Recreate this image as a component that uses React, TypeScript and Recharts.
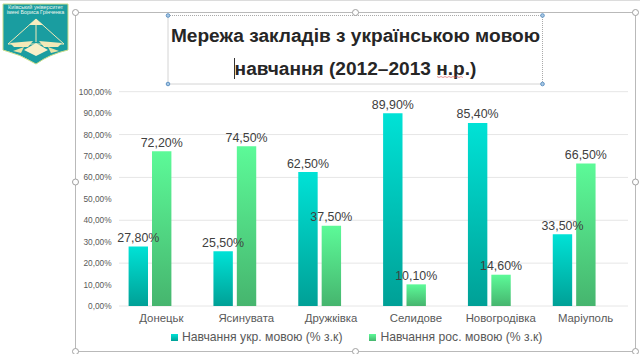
import React from 'react';
import { BarChart, Bar, XAxis, YAxis, CartesianGrid, LabelList, Legend } from 'recharts';

const cities = ['Донецьк', 'Ясинувата', 'Дружківка', 'Селидове', 'Новогродівка', 'Маріуполь'];
const ukrValues = [27.8, 25.5, 62.5, 89.9, 85.4, 33.5];
const rosValues = [72.2, 74.5, 37.5, 10.1, 14.6, 66.5];
const yTicks = [0, 10, 20, 30, 40, 50, 60, 70, 80, 90, 100];
const titleLines = ['Мережа закладів з українською мовою', 'навчання (2012–2013 н.р.)'];

const data = cities.map((city, i) => ({ city, ukr: ukrValues[i], ros: rosValues[i] }));

const font = '"Liberation Sans", Arial, sans-serif';
const formatPercent = (value: any) => `${Number(value).toFixed(2).replace('.', ',')}%`;

// the grid starts right of the bars' axis, as in the slide
const GridLine = (props: any) => (
  <line x1={props.x1 + 11.4} x2={props.x2} y1={props.y1} y2={props.y2} stroke="#e6e6e6" strokeWidth={1} />
);

// slide selection frame, title box and university logo
const SlideOverlay = () => {
  const handles = [
    [75.5, 12.5], [355.5, 12.5], [635.5, 12.5],
    [75.5, 182], [635.5, 182],
    [75.5, 351.5], [355.5, 351.5], [635.5, 351.5],
  ];
  const blueHandles = [[168, 15.5], [542.5, 15.5], [168, 84], [542.5, 84]];
  return (
    <svg width={640} height={354} style={{ position: 'absolute', left: 0, top: 0 }}>
      <line x1={0} x2={640} y1={0.5} y2={0.5} stroke="#dcdcdc" />
      <rect x={75.5} y={12.5} width={560} height={339} fill="none" stroke="#b9b9b9" />
      <rect x={168} y={15.5} width={374.5} height={68.5} fill="none" stroke="#a9a9a9" strokeDasharray="1 1" />
      {handles.map(([cx, cy], i) => (
        <circle key={i} cx={cx} cy={cy} r={3} fill="#fff" stroke="#a0a0a0" />
      ))}
      {blueHandles.map(([cx, cy], i) => (
        <circle key={i} cx={cx} cy={cy} r={1.8} fill="#a9c8e4" stroke="#5f93c4" />
      ))}
      <text x={355.5} y={42} textAnchor="middle" fontFamily={font} fontWeight={700} fontSize={19.1} fill="#262626">{titleLines[0]}</text>
      <text x={355.5} y={75} textAnchor="middle" fontFamily={font} fontWeight={700} fontSize={19.1} fill="#262626">{titleLines[1]}</text>
      <line x1={234.5} x2={234.5} y1={58} y2={79} stroke="#333" />
      <path d="M437 76.5 l2 1 l2 -1 l2 1 l2 -1 l2 1 l2 -1 l2 1 l2 -1 l2 1 l2 -1 l2 1 l2 -1 l2 1" fill="none" stroke="#d9534f" strokeWidth={0.6} />
      <g>
        <path d="M3 4 H68 V50 Q50 54 36 64 Q20 54 3 50 Z" fill="#1a9da0" stroke="#c9dc8a" strokeWidth={1} />
        <text x={35.5} y={9} textAnchor="middle" fontFamily={font} fontSize={5.4} fill="#eef6ee">Київський університет</text>
        <text x={35.5} y={14} textAnchor="middle" fontFamily={font} fontSize={5.4} fill="#eef6ee">імені Бориса Грінченка</text>
        <path d="M36 19 L64 44 H8 Z" fill="none" stroke="#f3e9b8" strokeWidth={1} />
        <path d="M36 19 L29 25 H43 Z" fill="#f6edc0" />
        <line x1={36} x2={36} y1={22} y2={42} stroke="#f3e9b8" />
        <path d="M10 43 L33 41 L28 47 L14 47 Z" fill="#f3e9b8" />
        <path d="M62 43 L39 41 L44 47 L58 47 Z" fill="#f3e9b8" />
        <path d="M36 43 L48 50 L36 56 L24 50 Z" fill="#f8efc8" />
        <path d="M13 51 L24 47 L21 53 Z" fill="#e6e3a8" />
        <path d="M59 51 L48 47 L51 53 Z" fill="#e6e3a8" />
      </g>
    </svg>
  );
};

const App = () => {
  return (
    <div style={{ position: 'absolute', left: 0, top: 0, width: 640, height: 354, background: '#fff', overflow: 'hidden' }}>
      <SlideOverlay />
      <div style={{ position: 'absolute', left: 0, top: 0 }}>
        <BarChart
          width={640}
          height={354}
          data={data}
          barSize={19.4}
          barGap={4}
          margin={{ top: 91.7, right: 12, left: 57.6, bottom: 0 }}
          style={{ fontFamily: font }}
        >
          <defs>
            <linearGradient id="ukrFill" x1="0" y1="0" x2="0" y2="1">
              <stop offset="0%" stopColor="#00e2d6" />
              <stop offset="100%" stopColor="#00a096" />
            </linearGradient>
            <linearGradient id="rosFill" x1="0" y1="0" x2="0" y2="1">
              <stop offset="0%" stopColor="#5cfa98" />
              <stop offset="100%" stopColor="#46b56e" />
            </linearGradient>
          </defs>
          <CartesianGrid vertical={false} horizontal={GridLine as any} />
          <XAxis xAxisId="bars" dataKey="city" hide height={0} padding={{ left: 0, right: 11.4 }} />
          <XAxis
            xAxisId="labels"
            dataKey="city"
            height={24}
            padding={{ left: 11.4, right: 0 }}
            axisLine={false}
            tickLine={false}
            interval={0}
            tick={{ fontSize: 11.4, fill: '#595959' }}
          />
          <YAxis
            width={50}
            domain={[0, 100]}
            ticks={yTicks}
            tickFormatter={formatPercent}
            axisLine={false}
            tickLine={false}
            tick={{ fontSize: 8.3, fill: '#595959', dx: 12 }}
          />
          <Bar xAxisId="bars" dataKey="ukr" name="Навчання укр. мовою (% з.к)" fill="url(#ukrFill)" isAnimationActive={false}>
            <LabelList dataKey="ukr" position="top" offset={4.5} formatter={formatPercent} style={{ fontSize: 12.4, fill: '#404040' }} />
          </Bar>
          <Bar xAxisId="bars" dataKey="ros" name="Навчання рос. мовою (% з.к)" fill="url(#rosFill)" isAnimationActive={false}>
            <LabelList dataKey="ros" position="top" offset={4.5} formatter={formatPercent} style={{ fontSize: 12.4, fill: '#404040' }} />
          </Bar>
          <Legend
            verticalAlign="bottom"
            height={24}
            iconType="square"
            iconSize={7}
            itemSorter={null}
            wrapperStyle={{ fontSize: 12.2, color: '#595959', left: 85 }}
            formatter={(value: any) => <span style={{ color: '#595959', marginRight: 17 }}>{value}</span>}
          />
        </BarChart>
      </div>
    </div>
  );
};

export default App;
